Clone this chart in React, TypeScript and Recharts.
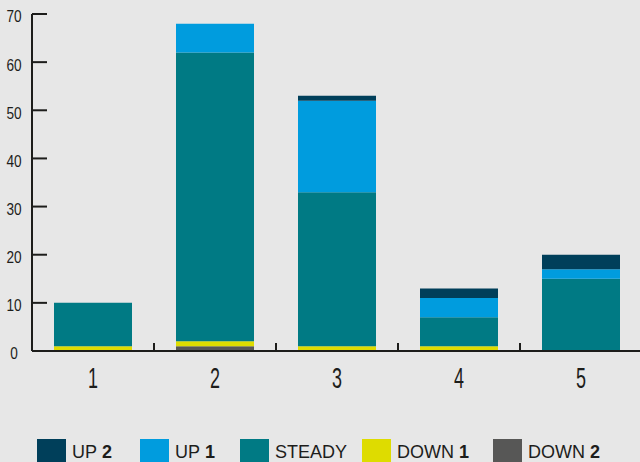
import { Bar, BarChart, XAxis, YAxis } from "recharts";

const CATEGORIES = ["1", "2", "3", "4", "5"];
const DOWN_2 = [0, 1, 0, 0, 0];
const DOWN_1 = [1, 1, 1, 1, 0];
const STEADY = [9, 60, 32, 6, 15];
const UP_1 = [0, 6, 19, 4, 2];
const UP_2 = [0, 0, 1, 2, 3];
const Y_TICKS = [0, 10, 20, 30, 40, 50, 60, 70];

const data = CATEGORIES.map((name, i) => ({
  name,
  down2: DOWN_2[i],
  down1: DOWN_1[i],
  steady: STEADY[i],
  up1: UP_1[i],
  up2: UP_2[i],
}));

const COLORS = {
  up2: "#003f5a",
  up1: "#009cde",
  steady: "#007a84",
  down1: "#dedc00",
  down2: "#575756",
};

const LEGEND = [
  { key: "up2", word: "UP", num: "2" },
  { key: "up1", word: "UP", num: "1" },
  { key: "steady", word: "STEADY", num: "" },
  { key: "down1", word: "DOWN", num: "1" },
  { key: "down2", word: "DOWN", num: "2" },
] as const;

// left edge of each legend swatch
const LEGEND_X = [37, 140, 240, 362, 493];

const INK = "#1d1d1b";
const SANS = "'Liberation Sans', Arial, sans-serif";

// the original face is a narrow DIN-like one, so squeeze Liberation Sans
function YTick(props: any) {
  const { x, y, payload } = props;
  return (
    <g>
      <line x1={x} x2={x + 15} y1={y} y2={y} stroke={INK} strokeWidth={2} />
      <text
        transform={`translate(${x - 18},${y + 3}) scale(0.85,1)`}
        textAnchor="middle"
        dominantBaseline="central"
        fill={INK}
        fontSize={16}
        fontFamily={SANS}
      >
        {payload.value}
      </text>
    </g>
  );
}

function XTick(props: any) {
  const { x, y, payload, index, width } = props;
  const half = width / CATEGORIES.length / 2;
  return (
    <g>
      {index < CATEGORIES.length - 1 && (
        <line
          x1={x + half}
          x2={x + half}
          y1={y}
          y2={y - 8}
          stroke={INK}
          strokeWidth={2}
        />
      )}
      <text
        transform={`translate(${x},${y + 27}) scale(0.62,1)`}
        textAnchor="middle"
        dominantBaseline="central"
        fill={INK}
        fontSize={29}
        fontFamily={SANS}
      >
        {payload.value}
      </text>
    </g>
  );
}

export default function App() {
  return (
    <div
      style={{
        position: "fixed",
        top: 0,
        left: 0,
        width: 640,
        height: 462,
        background: "#e7e7e7",
        overflow: "hidden",
      }}
    >
      <BarChart
        width={642}
        height={462}
        data={data}
        margin={{ top: 14, right: 0, left: 0, bottom: 0 }}
      >
        <XAxis
          dataKey="name"
          height={111}
          axisLine={{ stroke: INK, strokeWidth: 2 }}
          tickLine={false}
          tickSize={0}
          tickMargin={0}
          tick={<XTick />}
          interval={0}
        />
        <YAxis
          width={32}
          domain={[0, 70]}
          ticks={Y_TICKS}
          axisLine={{ stroke: INK, strokeWidth: 2 }}
          tickLine={false}
          tickSize={0}
          tickMargin={0}
          tick={<YTick />}
          interval={0}
        />
        <Bar dataKey="down2" stackId="a" fill={COLORS.down2} barSize={78} isAnimationActive={false} />
        <Bar dataKey="down1" stackId="a" fill={COLORS.down1} barSize={78} isAnimationActive={false} />
        <Bar dataKey="steady" stackId="a" fill={COLORS.steady} barSize={78} isAnimationActive={false} />
        <Bar dataKey="up1" stackId="a" fill={COLORS.up1} barSize={78} isAnimationActive={false} />
        <Bar dataKey="up2" stackId="a" fill={COLORS.up2} barSize={78} isAnimationActive={false} />
      </BarChart>
      {LEGEND.map((item, i) => (
        <div
          key={item.key}
          style={{
            position: "absolute",
            top: 439,
            left: LEGEND_X[i],
            display: "flex",
            alignItems: "flex-start",
            fontFamily: SANS,
            fontSize: 18,
            color: INK,
            whiteSpace: "nowrap",
          }}
        >
          <span
            style={{
              display: "inline-block",
              width: 29,
              height: 29,
              background: COLORS[item.key],
              marginRight: 6,
            }}
          />
          <span style={{ lineHeight: "26px" }}>
            {item.word}
            {item.num && <b> {item.num}</b>}
          </span>
        </div>
      ))}
    </div>
  );
}
